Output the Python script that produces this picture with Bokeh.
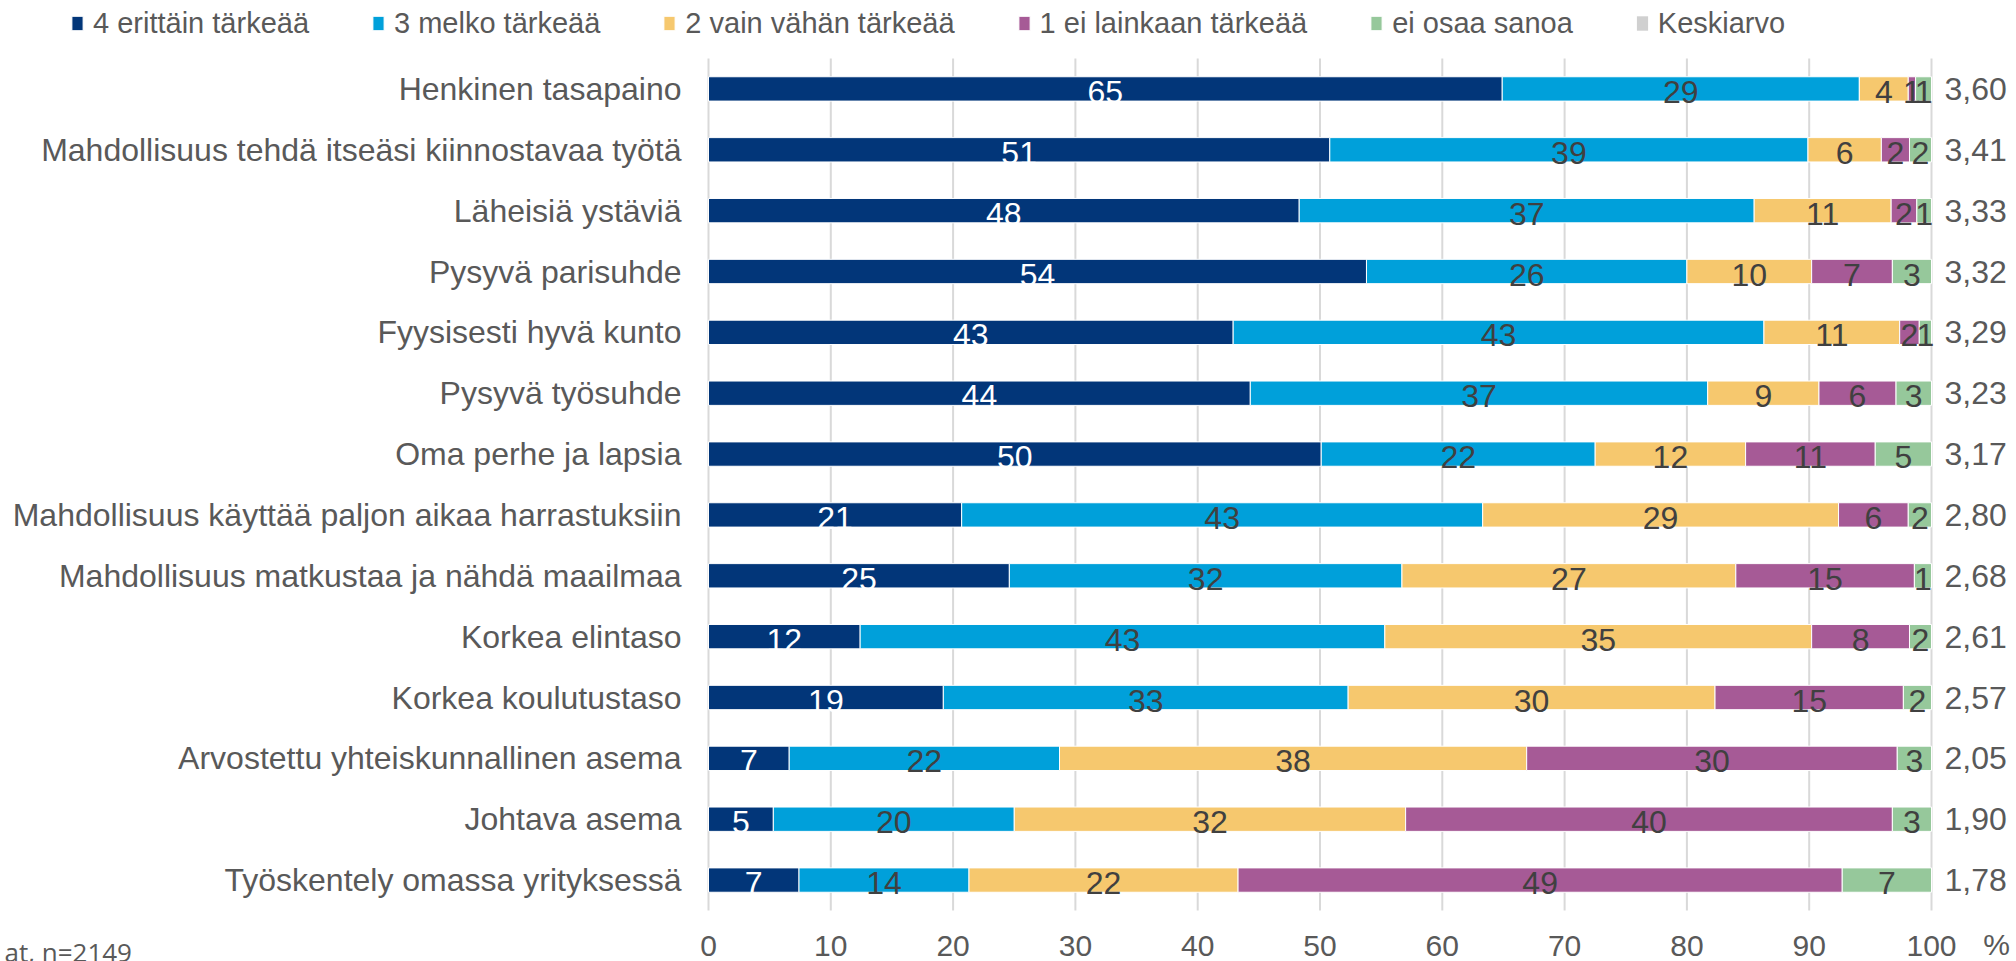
import numpy as np
from bokeh.plotting import figure
from bokeh.models import (Range1d, LinearAxis, Legend, LegendItem, Label,
                          FixedTicker, ColumnDataSource)
from bokeh.core.properties import value
from bokeh.embed import file_html
from bokeh.resources import INLINE

categories = [
    "Henkinen tasapaino",
    "Mahdollisuus tehdä itseäsi kiinnostavaa työtä",
    "Läheisiä ystäviä",
    "Pysyvä parisuhde",
    "Fyysisesti hyvä kunto",
    "Pysyvä työsuhde",
    "Oma perhe ja lapsia",
    "Mahdollisuus käyttää paljon aikaa harrastuksiin",
    "Mahdollisuus matkustaa ja nähdä maailmaa",
    "Korkea elintaso",
    "Korkea koulutustaso",
    "Arvostettu yhteiskunnallinen asema",
    "Johtava asema",
    "Työskentely omassa yrityksessä",
]
very_important = [64.9, 50.8, 48.3, 53.8, 42.9, 44.3, 50.1, 20.7, 24.6, 12.4, 19.2, 6.6, 5.3, 7.4]
quite_important = [29.2, 39.1, 37.2, 26.2, 43.4, 37.4, 22.4, 42.6, 32.1, 42.9, 33.1, 22.1, 19.7, 13.9]
little_important = [4.0, 6.0, 11.2, 10.2, 11.1, 9.1, 12.3, 29.1, 27.3, 34.9, 30.0, 38.2, 32.0, 22.0]
not_important = [0.6, 2.3, 2.1, 6.6, 1.6, 6.3, 10.6, 5.7, 14.6, 8.0, 15.4, 30.3, 39.8, 49.4]
dont_know = [1.3, 1.8, 1.2, 3.2, 1.0, 2.9, 4.6, 1.9, 1.4, 1.8, 2.3, 2.8, 3.2, 7.3]
means = ["3,60", "3,41", "3,33", "3,32", "3,29", "3,23", "3,17",
         "2,80", "2,68", "2,61", "2,57", "2,05", "1,90", "1,78"]
series_names = ["4 erittäin tärkeää", "3 melko tärkeää", "2 vain vähän tärkeää",
                "1 ei lainkaan tärkeää", "ei osaa sanoa"]
mean_name = "Keskiarvo"
x_ticks = [0, 10, 20, 30, 40, 50, 60, 70, 80, 90, 100]
unit_text = "%"
note_text = "at, n=2149"

colors = ["#023679", "#00A0DA", "#F6C86E", "#A65A96", "#96C89B"]
label_colors = ["#FFFFFF", "#404040", "#404040", "#404040", "#404040"]
mean_color = "#D0D0D0"
FONT = "Liberation Sans"
TXT = "#595959"

W, H = 2016, 961
# layout (pixels): value 0 at x=708, 100 at x=1931; rows from y=58 to y=910
PX0, PX100, PY_TOP, PY_BOT = 708, 1931, 58, 910
n = len(categories)
ppu_x = (PX100 - PX0) / 100.0
row_h = (PY_BOT - PY_TOP) / n
x_start = -PX0 / ppu_x
x_end = (W - PX0) / ppu_x
y_top = -0.5 - PY_TOP / row_h
y_bot = (n - 0.5) + (H - PY_BOT) / row_h

keys = ["s0", "s1", "s2", "s3", "s4"]
series = [very_important, quite_important, little_important, not_important, dont_know]
rows = list(range(n))
data = {"y": rows}
for k, s in zip(keys, series):
    data[k] = s
src = ColumnDataSource(data)

p = figure(width=W, height=H,
           x_range=Range1d(x_start, x_end),
           y_range=Range1d(y_bot, y_top),
           output_backend="svg", toolbar_location=None,
           min_border_left=0, min_border_right=0,
           min_border_top=0, min_border_bottom=0)
p.outline_line_color = None
p.xgrid.grid_line_color = None
p.ygrid.grid_line_color = None

# vertical gridlines spanning the category rows
p.segment(x0=x_ticks, x1=x_ticks, y0=[-0.5] * len(x_ticks), y1=[n - 0.5] * len(x_ticks),
          line_color="#D9D9D9", line_width=2)

bars = p.hbar_stack(keys, y="y", height=0.4, color=colors, source=src,
                    line_color="white", line_width=1)
# "Keskiarvo" series: zero-width (hidden) bars, shown only in the legend
mean_r = p.hbar(y=rows, left=0, right=0, height=0.4, fill_color=mean_color, line_color=None)

# data labels
arr = np.array(series, dtype=float)
cum = np.cumsum(arr, axis=0)
lefts = cum - arr
xs, ys, ts, cs = [], [], [], []
for j in range(arr.shape[0]):
    for i in range(arr.shape[1]):
        xs.append((lefts[j, i] + cum[j, i]) / 2)
        ys.append(rows[i])
        ts.append(str(int(round(arr[j, i]))))
        cs.append(label_colors[j])
lab_src = ColumnDataSource(dict(x=xs, y=ys, t=ts, c=cs))
p.text(x="x", y="y", text="t", source=lab_src, text_color="c",
       text_font=value(FONT), text_font_size="32px",
       text_align="center", text_baseline="middle", y_offset=3)

# x axis at the bottom of the rows
xa = p.xaxis[0]
xa.fixed_location = n - 0.5
xa.ticker = FixedTicker(ticks=x_ticks)
xa.axis_line_color = None
xa.major_tick_out = 0
xa.major_tick_in = 0
xa.minor_tick_out = 0
xa.minor_tick_in = 0
xa.major_label_standoff = 25
xa.major_label_text_font = FONT
xa.major_label_text_font_size = "30px"
xa.major_label_text_color = TXT

# left axis: categories
ya = p.yaxis[0]
ya.fixed_location = 0
ya.ticker = FixedTicker(ticks=rows)
ya.major_label_overrides = {i: c for i, c in zip(rows, categories)}
ya.axis_line_color = None
ya.major_tick_out = 0
ya.major_tick_in = 0
ya.minor_tick_out = 0
ya.minor_tick_in = 0
ya.major_label_standoff = 27
ya.major_label_text_font = FONT
ya.major_label_text_font_size = "32px"
ya.major_label_text_color = TXT

# right axis: means
ra = LinearAxis(fixed_location=100, ticker=FixedTicker(ticks=rows),
                major_label_overrides={i: m for i, m in zip(rows, means)})
ra.axis_line_color = None
ra.major_tick_out = 0
ra.major_tick_in = 0
ra.minor_tick_out = 0
ra.minor_tick_in = 0
ra.major_label_standoff = 13
ra.major_label_text_font = FONT
ra.major_label_text_font_size = "32px"
ra.major_label_text_color = TXT
p.add_layout(ra, "right")

# unit sign and note
p.add_layout(Label(x=1996, y=H - 944, x_units="screen", y_units="screen", text=unit_text,
                   text_font=FONT, text_font_size="30px", text_color=TXT,
                   text_align="center", text_baseline="middle"))
p.add_layout(Label(x=4, y=10, x_units="screen", y_units="screen", text=note_text,
                   text_font="Open Sans", text_font_size="26px", text_color=TXT,
                   text_align="left", text_baseline="alphabetic"))

# legend
items = [LegendItem(label=nm, renderers=[r]) for nm, r in zip(series_names, bars)]
items.append(LegendItem(label=mean_name, renderers=[mean_r]))
legend = Legend(items=items, orientation="horizontal", location=(70, H - 5 - 36),
                glyph_width=14, glyph_height=18, label_height=36, label_standoff=9,
                spacing=62, padding=0, margin=0, border_line_alpha=0,
                background_fill_alpha=0, label_text_font=FONT,
                label_text_font_size="29px", label_text_color=TXT,
                label_text_baseline="middle")
p.add_layout(legend, "center")

open("out.html", "w").write(file_html(p, INLINE))
